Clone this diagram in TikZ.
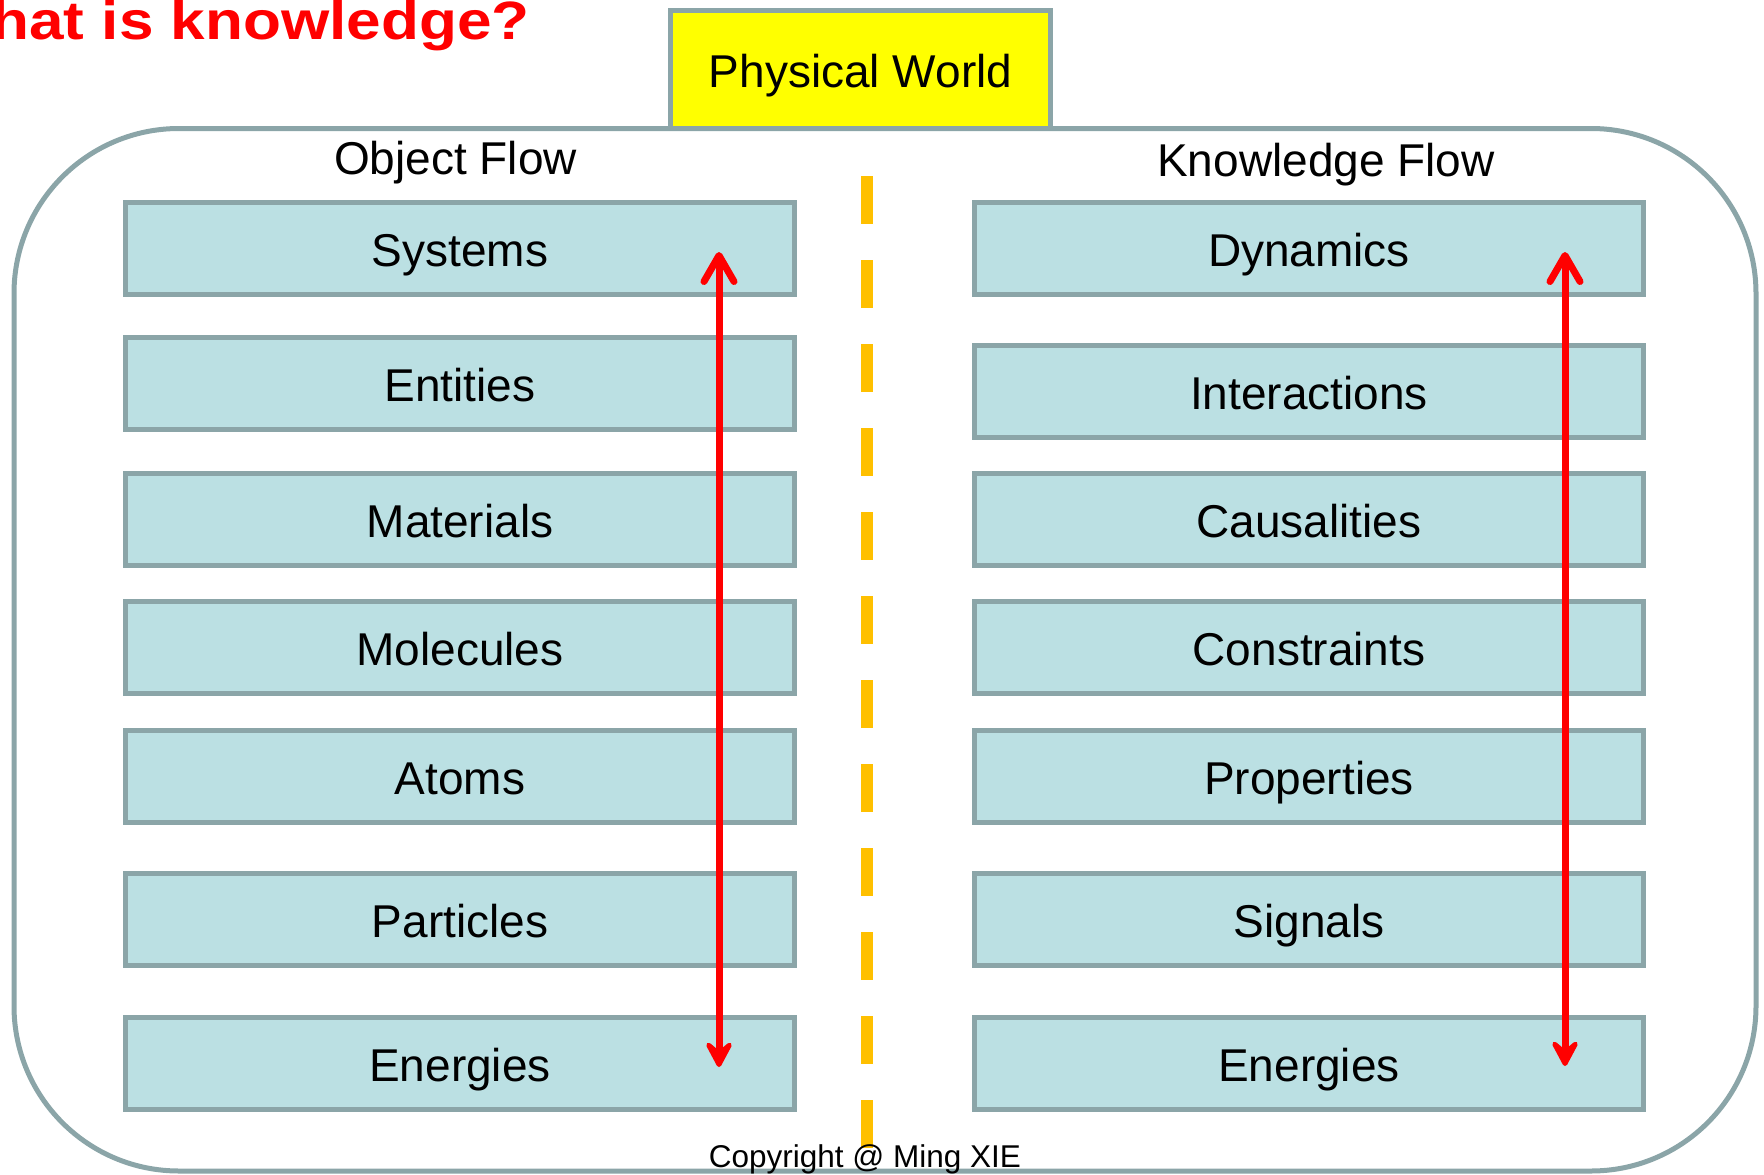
\documentclass[tikz,border=0pt]{standalone}
\usepackage{fontspec}
\setmainfont{Liberation Sans}
\newfontfamily\titlefont{Liberation Sans}[FakeStretch=1.15]
\usetikzlibrary{arrows.meta}
\definecolor{boxfill}{HTML}{BBE0E3}
\definecolor{boxline}{HTML}{8BA5A8}
\definecolor{dashcol}{HTML}{FFC000}
\definecolor{titlered}{HTML}{FF0000}
\definecolor{pwyellow}{HTML}{FFFF00}
\tikzset{
  layerbox/.style={draw=boxline, fill=boxfill, line width=5pt, minimum width=669pt,
    minimum height=92pt, inner sep=0pt, text height=36pt, text depth=0pt,
    font=\fontsize{46}{55}\selectfont},
  headtext/.style={anchor=base, inner sep=0pt, font=\fontsize{46}{55}\selectfont},
  flowarrow/.style={draw=titlered, line width=7pt,
    {Straight Barb[length=26pt,width=30pt,round]}-{Stealth[length=34pt,width=36pt,inset=15pt,round]}},
}
\begin{document}
\begin{tikzpicture}[x=1pt,y=-1pt]
\useasboundingbox (0,0) rectangle (1764,1175);
\clip (0,0) rectangle (1764,1175);
% outer rounded frame
\draw[boxline, line width=5pt, rounded corners=165pt] (14,128.5) rectangle (1756,1171);
% physical world
\node[draw=boxline, fill=pwyellow, line width=5pt, minimum width=380pt, minimum height=118pt,
  inner sep=0pt, text height=36pt, text depth=0pt, font=\fontsize{46}{55}\selectfont]
  (pw) at (860.5,69.5) {Physical World};
% headings
\node[headtext] (of) at (455.5,174) {Object Flow};
\node[headtext] (kf) at (1326,176) {Knowledge Flow};
% left column
\node[layerbox] (l1) at (460,248) {Systems};
\node[layerbox] (l2) at (460,383) {Entities};
\node[layerbox] (l3) at (460,519.5) {Materials};
\node[layerbox] (l4) at (460,647.5) {Molecules};
\node[layerbox] (l5) at (460,776) {Atoms};
\node[layerbox] (l6) at (460,919.5) {Particles};
\node[layerbox] (l7) at (460,1063.5) {Energies};
% right column
\node[layerbox] (r1) at (1309,248) {Dynamics};
\node[layerbox] (r2) at (1309,391.5) {Interactions};
\node[layerbox] (r3) at (1309,519.5) {Causalities};
\node[layerbox] (r4) at (1309,647.5) {Constraints};
\node[layerbox] (r5) at (1309,776) {Properties};
\node[layerbox] (r6) at (1309,919.5) {Signals};
\node[layerbox] (r7) at (1309,1063.5) {Energies};
% divider
\coordinate (dt) at (866.5,176);
\coordinate (db) at (866.5,1148);
\draw[dashcol, line width=12pt, dash pattern=on 48pt off 36pt] (dt) -- (db);
% arrows
\coordinate (lt) at (719,252);
\coordinate (lb) at (719,1067);
\coordinate (rt) at (1565,252);
\coordinate (rb) at (1565,1066);
\draw[flowarrow] (lt) -- (lb);
\draw[flowarrow] (rt) -- (rb);
% title and copyright
\node[anchor=base east, inner sep=0pt, text=titlered, font=\titlefont\bfseries\fontsize{54}{64}\selectfont]
  (title) at (530,39) {What is knowledge?};
\node[anchor=base, inner sep=0pt, font=\fontsize{31.5}{38}\selectfont] (copy) at (865,1167) {Copyright @ Ming XIE};
\end{tikzpicture}
\end{document}
